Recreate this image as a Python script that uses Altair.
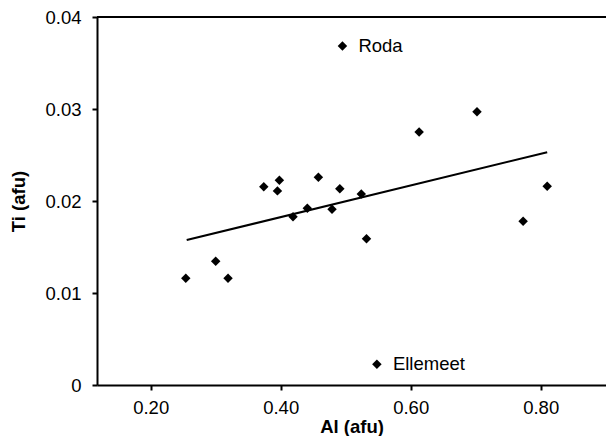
import altair as alt
import pandas as pd

# Scatter data (Al, Ti in afu)
al = [0.254, 0.300, 0.319, 0.374, 0.398, 0.395, 0.419, 0.441, 0.458, 0.479,
      0.491, 0.524, 0.532, 0.613, 0.702, 0.773, 0.810, 0.495, 0.548]
ti = [0.0116, 0.01345, 0.0116, 0.02155, 0.02225, 0.0211, 0.0183, 0.0192, 0.02258, 0.0191,
      0.02134, 0.02076, 0.0159, 0.0275, 0.0297, 0.0178, 0.0216, 0.03685, 0.00225]
names = [""] * 17 + ["Roda", "Ellemeet"]

# Regression line end points
line_al = [0.2554, 0.810]
line_ti = [0.01576, 0.0253]

x_ticks = [0.2, 0.4, 0.6, 0.8]
y_ticks = [0, 0.01, 0.02, 0.03, 0.04]

pts = pd.DataFrame({"al": al, "ti": ti, "name": names})
lab = pts[pts["name"] != ""]
ln = pd.DataFrame({"al": line_al, "ti": line_ti})

FONT = "Liberation Sans"
W, H = 509, 368
FS = 18.5

xs = alt.Scale(domain=[0.1174, 0.9005], nice=False, zero=False)
ys = alt.Scale(domain=[0, 0.04], nice=False)

xax = alt.Axis(values=x_ticks, format=".2f", title="Al (afu)", grid=False,
               tickSize=5, labelPadding=8, titlePadding=1)
yax = alt.Axis(values=y_ticks, title="Ti (afu)", grid=False,
               labelExpr="datum.value == 0 ? '0' : format(datum.value, '.2f')",
               tickSize=5, labelPadding=11, titlePadding=16)

points = alt.Chart(pts).mark_point(shape="diamond", filled=True, color="black",
                                   size=90, opacity=1).encode(
    x=alt.X("al:Q", scale=xs, axis=xax),
    y=alt.Y("ti:Q", scale=ys, axis=yax),
)

line = alt.Chart(ln).mark_line(color="black", strokeWidth=2).encode(
    x=alt.X("al:Q", scale=xs),
    y=alt.Y("ti:Q", scale=ys),
)

labels = alt.Chart(lab).mark_text(align="left", baseline="middle", dx=16,
                                   font=FONT, fontSize=FS, color="black").encode(
    x=alt.X("al:Q", scale=xs),
    y=alt.Y("ti:Q", scale=ys),
    text="name:N",
)

top = alt.Chart(pd.DataFrame({"v": [0]})).mark_rule(color="black", strokeWidth=2).encode(
    x=alt.value(0), x2=alt.value(W), y=alt.value(0)
)

chart = alt.layer(line, points, labels, top).properties(
    width=W, height=H,
    autosize=alt.AutoSizeParams(type="none"),
    padding={"left": 89, "top": 9, "right": 0, "bottom": 51},
).configure_view(stroke=None).configure_axis(
    domainColor="black", domainWidth=2, tickColor="black", tickWidth=2,
    labelFont=FONT, labelFontSize=FS, labelColor="black",
    titleFont=FONT, titleFontSize=FS, titleFontWeight="bold", titleColor="black",
)

chart.save("out.html", embed_options={"renderer": "svg", "actions": False})
